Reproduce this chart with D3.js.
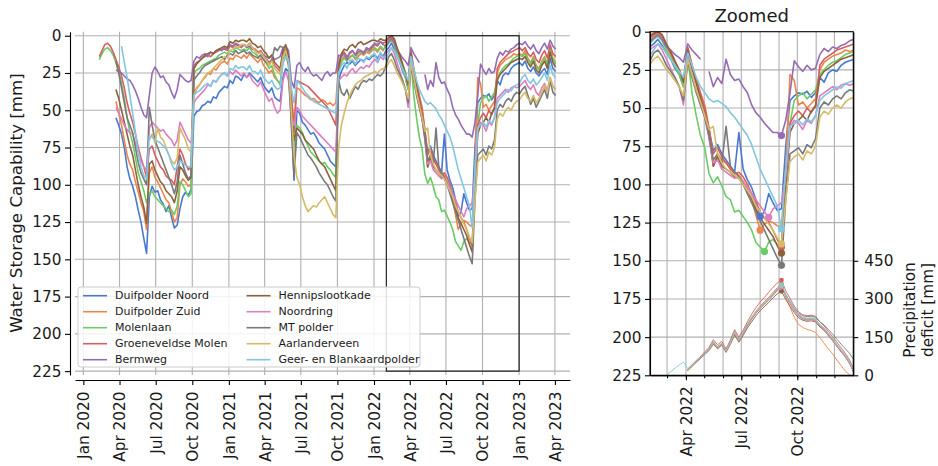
<!DOCTYPE html>
<html>
<head>
<meta charset="utf-8">
<script src="https://cdn.jsdelivr.net/npm/d3@7"></script>
<style>
  body { margin: 0; background: #fff; }
  svg { font-family: "DejaVu Sans", sans-serif; }
</style>
</head>
<body>
<script>
// polders, in legend order
var seriesNames = ["Duifpolder Noord", "Duifpolder Zuid", "Molenlaan", "Groeneveldse Molen", "Bermweg",
  "Hennipslootkade", "Noordring", "MT polder", "Aarlanderveen", "Geer- en Blankaardpolder"];
var seriesColors = ["#4878d0", "#ee854a", "#6acc64", "#d65f5f", "#956cb4",
  "#8c613c", "#dc7ec0", "#797979", "#d5bb67", "#82c6e2"];

// weekly samples, first one on this date
var firstWeek = "2020-02-10";
var deficitFirstWeek = "2022-01-31";

// water storage capability [mm], one value per week
var duifpolderNoord = [null,null,null,null,null,null,55,60,
  66,75,88,96,101,108,117,125,136,146,108,101,105,104,110,113,118,114,122,129,127,116,108,105,107,103,
  54,51,50,47,46,44,45,41,42,38,36,34,35,30,32,27,28,30,26,28,25,27,29,31,28,33,36,38,35,41,43,44,28,22,
  24,55,97,50,52,58,60,63,66,65,68,72,74,76,80,84,86,88,30,
  24,20,18,19,17,20,18,16,17,15,16,14,13,15,12,14,
  10,8,5,9,14,18,24,28,36,14,24,33,42,50,64,78,74,80,84,88,92,66,90,97,102,110,121,118,106,112,117,116,75,45,42,40,41,39,43,40,30,33,27,25,26,22,20,19,18,
  20,17,22,24,21,25,27,24,22,26,15,22,24];
var duifpolderZuid = [null,null,null,null,null,null,44,52,
  60,70,80,86,90,98,105,112,118,130,92,88,95,98,102,106,110,112,118,125,122,100,96,98,101,100,
  38,35,33,30,28,25,26,22,23,20,18,17,19,15,16,13,14,15,13,15,12,14,16,18,15,20,22,25,23,28,30,32,18,14,
  16,40,60,35,36,38,40,41,43,42,44,45,43,44,46,45,47,45,20,
  16,14,17,15,13,16,14,12,13,11,12,10,9,11,8,10,
  6,3,1,4,10,15,21,26,33,11,22,31,40,48,63,88,80,84,86,89,92,94,98,104,110,120,130,126,124,125,127,128,90,28,32,48,46,50,47,44,25,20,18,16,15,14,12,13,12,
  13,10,15,18,14,20,22,17,14,19,8,15,18];
var molenlaan = [16,12,9,8,10,13,18,24,
  32,42,55,65,72,82,92,98,104,112,106,104,108,110,112,114,116,118,117,120,114,98,100,104,108,106,
  25,23,22,20,19,18,17,16,15,13,12,11,12,10,11,8,9,10,9,10,8,11,12,14,13,16,18,22,20,26,30,33,16,12,
  18,45,75,60,62,65,70,74,78,80,82,84,86,85,88,90,93,95,24,
  18,15,17,14,13,15,12,11,12,10,11,9,8,10,7,9,
  8,5,3,6,12,17,23,28,36,16,40,55,68,76,93,99,95,101,108,110,118,117,121,125,130,138,141,144,138,136,139,140,100,60,45,42,40,44,41,38,28,25,22,20,19,17,15,14,13,
  14,12,16,19,15,21,23,18,15,20,9,16,19];
var groeneveldseMolen = [14,10,6,5,7,11,16,21,
  27,35,45,52,58,66,75,82,88,95,76,74,80,84,88,90,94,96,97,100,88,76,80,86,90,88,
  20,18,17,15,14,13,14,12,11,10,9,9,10,7,8,6,7,8,6,7,5,8,9,11,10,13,15,18,16,20,22,24,12,9,
  14,40,65,30,31,32,33,34,36,38,40,42,44,46,48,52,56,60,18,
  13,11,14,12,10,13,11,10,11,9,10,8,6,7,4,5,
  4,2,0,3,9,14,20,25,32,10,22,32,41,50,64,80,76,82,86,90,93,92,95,100,106,112,118,122,125,130,136,141,95,60,55,52,55,50,53,48,22,18,16,14,12,11,10,9,8,
  10,8,12,14,11,16,18,13,10,15,6,12,14];
var bermweg = [null,null,null,null,null,null,23,24,
  25,27,29,30,33,37,42,48,53,55,40,25,21,24,28,27,31,33,38,42,36,26,28,30,31,30,
  17,14,15,13,12,14,11,12,10,9,10,8,9,6,7,5,6,7,6,8,7,9,10,12,11,13,14,15,13,16,15,14,8,7,
  10,30,35,20,18,22,24,21,25,27,26,28,30,26,24,27,25,25,13,
  14,12,16,11,10,13,9,10,12,8,9,7,5,6,4,6,
  7,4,2,5,10,12,15,17,20,8,12,15,18,null,26,36,30,34,18,28,32,31,36,40,48,53,56,60,63,66,66,68,58,40,19,23,26,22,25,24,15,11,13,10,11,9,8,6,5,
  6,4,7,9,6,10,12,8,5,9,3,7,9];
var hennipslootkade = [null,null,null,null,null,null,36,42,
  50,58,66,74,80,90,100,108,115,126,86,84,90,94,98,100,104,106,108,112,104,88,90,94,97,95,
  22,19,17,15,13,12,11,12,10,9,8,7,8,4,5,3,4,3,3,4,2,5,6,8,7,10,12,15,13,18,20,22,10,6,
  14,50,70,62,64,66,70,72,74,76,80,84,86,88,92,96,100,104,22,
  12,9,10,7,6,8,5,4,6,5,4,3,3,4,2,3,
  3,1,0,2,8,13,19,25,33,12,24,34,44,54,68,88,82,88,90,92,95,96,100,104,109,116,122,126,130,134,140,145,100,66,60,58,55,58,52,49,30,26,24,22,20,18,17,16,15,
  16,14,18,21,17,23,25,20,17,22,11,18,21];
var noordring = [null,null,null,null,null,null,48,52,
  56,60,63,65,66,72,78,84,88,90,62,58,60,62,64,63,66,68,70,74,70,58,62,66,70,72,
  45,42,40,38,36,33,34,30,31,28,26,25,27,24,26,23,25,27,25,28,26,30,32,34,31,36,40,44,42,48,52,50,30,24,
  30,55,60,48,50,54,56,58,60,62,64,66,68,70,72,74,76,78,30,
  28,26,27,24,22,25,23,21,22,20,21,18,16,18,14,16,
  12,10,8,12,18,24,30,36,48,18,28,38,48,56,70,86,84,90,92,94,96,95,98,102,106,110,114,118,121.5,116,114,112,95,62,58,60,64,58,60,55,42,40,38,36,38,35,34,35,34,
  32,30,34,36,33,38,40,35,32,37,28,34,36];
var mtPolder = [null,null,null,null,null,null,17,25,
  35,45,55,60,65,75,85,92,96,100,48,60,70,75,80,85,90,95,100,106,98,80,86,92,96,94,
  30,27,25,22,20,19,18,17,16,15,14,16,13,12,13,10,12,11,10,12,11,13,14,15,13,16,18,20,16,8,10,7,8,12,
  20,60,94,65,68,72,76,80,82,85,88,92,95,98,100,104,108,111,30,
  38,40,36,42,38,34,36,32,30,31,29,30,28,26,27,25,
  20,14,12,16,22,26,30,36,45,20,30,40,48,56,68,84,80,86,62,88,92,95,100,106,112,118,124,130,136,142,148,153,110,80,78,76,80,74,76,70,50,46,48,44,42,44,40,38,39,
  36,34,40,46,42,48,44,40,36,42,30,38,40];
var aarlanderveen = [null,null,null,null,null,null,null,null,
  null,null,null,null,null,null,null,null,null,null,70,66,72,62,68,70,75,80,84,86,82,62,66,70,76,78,
  40,36,33,30,27,25,24,22,20,18,16,14,15,10,9,7,8,6,6,7,5,8,10,12,11,14,16,20,17,22,24,26,14,10,
  18,50,80,95,100,108,114,118,116,114,115,112,110,108,112,116,120,122,75,
  60,52,45,40,36,33,31,30,28,27,26,25,24,25,23,22,
  22,18,16,20,25,28,32,36,42,18,28,38,46,55,64,62,80,86,90,92,94,96,100,104,108,114,118,122,126,130,135,139,110,85,82,80,84,78,80,75,56,52,54,50,48,50,46,44,43,
  40,38,42,44,40,45,42,38,34,38,28,34,36];
var geerBlankaard = [null,null,null,null,null,null,null,null,
  7,18,28,40,52,65,78,88,94,96,67,68,70,71,72,74,76,80,86,90,88,84,85,87,88,88,
  40,38,37,35,33,32,34,30,31,28,26,25,27,22,23,20,22,21,21,23,20,24,24,26,23,28,30,32,30,34,36,35,18,14,
  16,35,45,30,32,35,38,40,42,44,45,46,47,48,49,50,51,52,25,
  20,18,22,17,16,19,15,16,18,14,15,13,12,18,11,14,
  16,12,8,10,14,18,22,26,30,14,22,30,36,40,44,46,45,47,49,53,56,60,64,68,74,82,90,96,102,108,114,129,90,62,60,58,61,57,59,55,45,42,40,38,36,37,34,33,32,
  28,26,30,32,29,33,31,28,25,30,20,26,28];

// precipitation deficit [mm], weekly from deficitFirstWeek
var defDuifpolderNoord = [null,null,null,null,null,null,null,null,null,
  20,38,54,70,86,102,128,110,124,96,128,166,138,165,196,222,246,266,282,298,
  318,336,352,314,286,258,236,224,220,222,218,196,182,160,140,118,96,76,50,14];
var defDuifpolderZuid = [null,null,null,null,null,null,null,null,null,
  20,38,56,72,88,104,132,112,126,98,130,172,142,170,202,228,252,272,290,306,
  326,344,360,306,268,228,200,188,180,176,168,148,126,104,84,60,38,16,2,-8];
var defMolenlaan = [null,null,null,null,null,null,null,null,null,
  21,39,55,71,87,103,130,111,125,97,129,168,140,167,198,224,248,268,284,300,
  320,338,354,316,288,260,238,226,222,224,220,198,184,162,142,120,98,78,52,16];
var defGroeneveldseMolen = [null,null,null,null,null,null,null,null,null,
  22,40,58,74,92,110,140,120,134,104,138,180,150,178,210,240,266,288,306,326,
  346,362,374,332,302,272,250,238,234,236,232,210,194,172,152,130,108,86,60,24];
var defBermweg = [null,null,null,null,null,null,null,null,null,
  20,37,53,69,85,101,127,109,123,95,127,165,137,164,195,221,245,265,281,297,
  316,334,350,312,284,256,234,222,218,220,216,194,180,158,138,116,94,74,48,12];
var defHennipslootkade = [null,null,null,null,null,null,null,null,null,
  18,35,51,66,82,97,122,104,118,90,121,158,130,156,186,210,234,254,270,286,
  304,320,330,298,272,246,226,216,212,214,210,190,176,156,136,114,92,72,46,10];
var defNoordring = [null,null,null,null,null,null,null,null,null,
  19,36,52,68,84,100,126,108,122,94,126,164,136,162,193,219,243,262,278,294,
  313,331,346,310,282,254,232,220,216,218,214,192,178,156,136,114,92,72,46,12];
var defMtPolder = [null,null,null,null,null,null,null,null,null,
  20,38,54,70,86,102,128,110,124,96,128,166,138,165,196,222,246,266,282,298,
  318,336,352,316,290,264,244,234,230,232,228,210,198,180,162,142,122,104,86,60];
var defAarlanderveen = [null,null,null,null,null,null,null,null,null,
  20,37,54,70,86,101,127,109,123,95,127,166,138,165,196,222,246,266,282,298,
  317,335,351,313,286,258,236,224,220,222,218,196,182,160,140,118,96,76,50,14];
var defGeerBlankaard = [null,null,null,null,0,14,28,40,52,
  26,42,58,72,88,104,132,112,126,98,130,170,140,168,200,226,250,270,285,300,
  320,340,355,318,290,262,240,228,224,226,222,200,186,165,145,122,100,80,55,20];

var storage = [duifpolderNoord, duifpolderZuid, molenlaan, groeneveldseMolen, bermweg,
  hennipslootkade, noordring, mtPolder, aarlanderveen, geerBlankaard];
var deficit = [defDuifpolderNoord, defDuifpolderZuid, defMolenlaan, defGroeneveldseMolen, defBermweg,
  defHennipslootkade, defNoordring, defMtPolder, defAarlanderveen, defGeerBlankaard];

var storageTicks = [0, 25, 50, 75, 100, 125, 150, 175, 200, 225];
var deficitTicks = [0, 150, 300, 450];

var parseDate = d3.timeParse("%Y-%m-%d");
var t0 = parseDate(firstWeek);
var t1 = parseDate(deficitFirstWeek);
function weekDate(start, i) { return d3.timeDay.offset(start, 7 * i); }

var gridColor = "#b0b0b0";
var svg = d3.select("body").append("svg").attr("width", 938).attr("height", 466);

function styleAxis(g, size) {
  g.attr("font-family", "DejaVu Sans").attr("font-size", size);
  g.selectAll("line, path").style("stroke", "#000").style("stroke-width", 1.1);
  g.selectAll("text").style("fill", "#1a1a1a");
}

/* ---------- left panel ---------- */
var xL = d3.scaleTime().domain([new Date(2019, 11, 11), new Date(2023, 4, 9)]).range([75, 570]);
var yL = d3.scaleLinear().domain([-2.7, 227.6]).range([31.7, 375]);
var quarters = d3.timeMonth.range(new Date(2020, 0, 1), new Date(2023, 3, 2), 3);

var left = svg.append("g");
left.selectAll(".hgrid").data(storageTicks).enter().append("line")
  .attr("x1", 75).attr("x2", 570)
  .attr("y1", function(d) { return yL(d); }).attr("y2", function(d) { return yL(d); })
  .style("stroke", gridColor).style("stroke-width", 1.1);
left.selectAll(".vgrid").data(quarters).enter().append("line")
  .attr("x1", function(d) { return xL(d); }).attr("x2", function(d) { return xL(d); })
  .attr("y1", 31.7).attr("y2", 375)
  .style("stroke", gridColor).style("stroke-width", 1.1);

var lineL = d3.line()
  .defined(function(d) { return d != null; })
  .x(function(d, i) { return xL(weekDate(t0, i)); })
  .y(function(d) { return yL(d); });

storage.map(function(values, k) {
  left.append("path").datum(values)
    .attr("d", lineL)
    .style("fill", "none").style("stroke", seriesColors[k])
    .style("stroke-width", 1.6).style("stroke-linejoin", "round");
});

// zoom window
left.append("rect")
  .attr("x", xL(new Date(2022, 1, 1))).attr("y", yL(0))
  .attr("width", xL(new Date(2023, 0, 1)) - xL(new Date(2022, 1, 1)))
  .attr("height", yL(225) - yL(0))
  .style("fill", "none").style("stroke", "#111").style("stroke-width", 1.1);

var axL = left.append("g").attr("transform", "translate(70,0)")
  .call(d3.axisLeft(yL).tickValues(storageTicks).tickSize(5).tickSizeOuter(0).tickPadding(3.5));
styleAxis(axL, 15.3);

var axB = left.append("g").attr("transform", "translate(0,380)")
  .call(d3.axisBottom(xL).tickValues(quarters).tickFormat(d3.timeFormat("%b %Y")).tickSize(5).tickSizeOuter(0));
styleAxis(axB, 15.3);
axB.selectAll("text")
  .attr("transform", "rotate(-90)").attr("text-anchor", "end")
  .attr("x", -11.5).attr("y", 0).attr("dy", "0.35em");

left.append("text")
  .attr("transform", "translate(16,203) rotate(-90)")
  .attr("text-anchor", "middle").attr("dominant-baseline", "central")
  .attr("font-size", 16.7).style("fill", "#1a1a1a")
  .text("Water Storage Capability [mm]");

// legend
var legend = left.append("g");
legend.append("rect")
  .attr("x", 78).attr("y", 287).attr("width", 342).attr("height", 80).attr("rx", 3)
  .style("fill", "#fff").style("fill-opacity", 0.85).style("stroke", "#cccccc").style("stroke-width", 1);
seriesNames.map(function(name, k) {
  var hx = k < 5 ? 83 : 246.5;
  var ly = 295.7 + 16 * (k % 5);
  legend.append("line").attr("x1", hx).attr("x2", hx + 24).attr("y1", ly).attr("y2", ly)
    .style("stroke", seriesColors[k]).style("stroke-width", 1.6);
  legend.append("text").attr("x", hx + 32).attr("y", ly).attr("dominant-baseline", "central")
    .attr("font-size", 11).style("fill", "#1a1a1a").text(name);
});

/* ---------- right panel (zoomed) ---------- */
var zoomStart = new Date(2022, 1, 1), zoomEnd = new Date(2023, 0, 1);
var xR = d3.scaleTime().domain([zoomStart, zoomEnd]).range([650, 853.3]);
var yR = d3.scaleLinear().domain([0, 225]).range([31.7, 375.3]);
var yD = d3.scaleLinear().domain([0, 1350]).range([375.3, 31.7]);
var months = d3.timeMonth.range(new Date(2022, 2, 1), zoomEnd);
var majorMonths = [new Date(2022, 3, 1), new Date(2022, 6, 1), new Date(2022, 9, 1)];

var right = svg.append("g");
right.append("clipPath").attr("id", "zoomclip").append("rect")
  .attr("x", 650).attr("y", 31.7).attr("width", 203.3).attr("height", 343.6);

right.selectAll(".hgrid").data(storageTicks.slice(1, -1)).enter().append("line")
  .attr("x1", 650).attr("x2", 853.3)
  .attr("y1", function(d) { return yR(d); }).attr("y2", function(d) { return yR(d); })
  .style("stroke", gridColor).style("stroke-width", 1.1);
right.selectAll(".vgrid").data(months).enter().append("line")
  .attr("x1", function(d) { return xR(d); }).attr("x2", function(d) { return xR(d); })
  .attr("y1", 31.7).attr("y2", 375.3)
  .style("stroke", gridColor).style("stroke-width", 1.1);

var plotR = right.append("g").attr("clip-path", "url(#zoomclip)");

var lineD = d3.line()
  .defined(function(d) { return d != null; })
  .x(function(d, i) { return xR(weekDate(t1, i)); })
  .y(function(d) { return yD(d); });
deficit.map(function(values, k) {
  plotR.append("path").datum(values)
    .attr("d", lineD)
    .style("fill", "none").style("stroke", seriesColors[k]).style("stroke-width", 0.9);
});

var lineR = d3.line()
  .defined(function(d) { return d != null; })
  .x(function(d, i) { return xR(weekDate(t0, i)); })
  .y(function(d) { return yR(d); });
storage.map(function(values, k) {
  plotR.append("path").datum(values)
    .attr("d", lineR)
    .style("fill", "none").style("stroke", seriesColors[k])
    .style("stroke-width", 1.6).style("stroke-linejoin", "round");
});

// largest storage deficit of each polder inside the window
storage.map(function(values, k) {
  var best = -1;
  values.map(function(v, i) {
    var t = weekDate(t0, i);
    if (v == null || t < zoomStart || t > zoomEnd) return;
    if (best < 0 || v > values[best]) best = i;
  });
  plotR.append("circle")
    .attr("cx", xR(weekDate(t0, best))).attr("cy", yR(values[best])).attr("r", 3.6)
    .style("fill", seriesColors[k]);
});
// peak precipitation deficit
deficit.map(function(values, k) {
  var best = d3.maxIndex(values);
  plotR.append("circle")
    .attr("cx", xR(weekDate(t1, best))).attr("cy", yD(values[best])).attr("r", 2.4)
    .style("fill", seriesColors[k]);
});

right.append("rect")
  .attr("x", 650).attr("y", 31.7).attr("width", 203.3).attr("height", 343.6)
  .style("fill", "none").style("stroke", "#000").style("stroke-width", 1.1);

var axRL = right.append("g").attr("transform", "translate(650,0)")
  .call(d3.axisLeft(yR).tickValues(storageTicks).tickSize(5).tickSizeOuter(0).tickPadding(3.5));
styleAxis(axRL, 15.3);

var axRB = right.append("g").attr("transform", "translate(0,375.3)")
  .call(d3.axisBottom(xR).tickValues(majorMonths).tickFormat(d3.timeFormat("%b %Y")).tickSize(5).tickSizeOuter(0));
styleAxis(axRB, 15.3);
axRB.selectAll("text")
  .attr("transform", "rotate(-90)").attr("text-anchor", "end")
  .attr("x", -11).attr("y", 0).attr("dy", "0.35em");
var axRM = right.append("g").attr("transform", "translate(0,375.3)")
  .call(d3.axisBottom(xR).tickValues(months).tickFormat("").tickSize(3).tickSizeOuter(0));
styleAxis(axRM, 15.3);

var axRR = right.append("g").attr("transform", "translate(853.3,0)")
  .call(d3.axisRight(yD).tickValues(deficitTicks).tickSize(5).tickSizeOuter(0).tickPadding(6));
styleAxis(axRR, 15.3);

right.append("text")
  .attr("x", 751.7).attr("y", 22).attr("text-anchor", "middle")
  .attr("font-size", 18).style("fill", "#1a1a1a").text("Zoomed");

var dlab = right.append("text")
  .attr("transform", "translate(915,310) rotate(-90)")
  .attr("text-anchor", "middle").attr("font-size", 15.3).style("fill", "#1a1a1a");
dlab.append("tspan").attr("x", 0).attr("y", 0).text("Precipitation");
dlab.append("tspan").attr("x", 0).attr("y", 18).text("deficit [mm]");
</script>
</body>
</html>
